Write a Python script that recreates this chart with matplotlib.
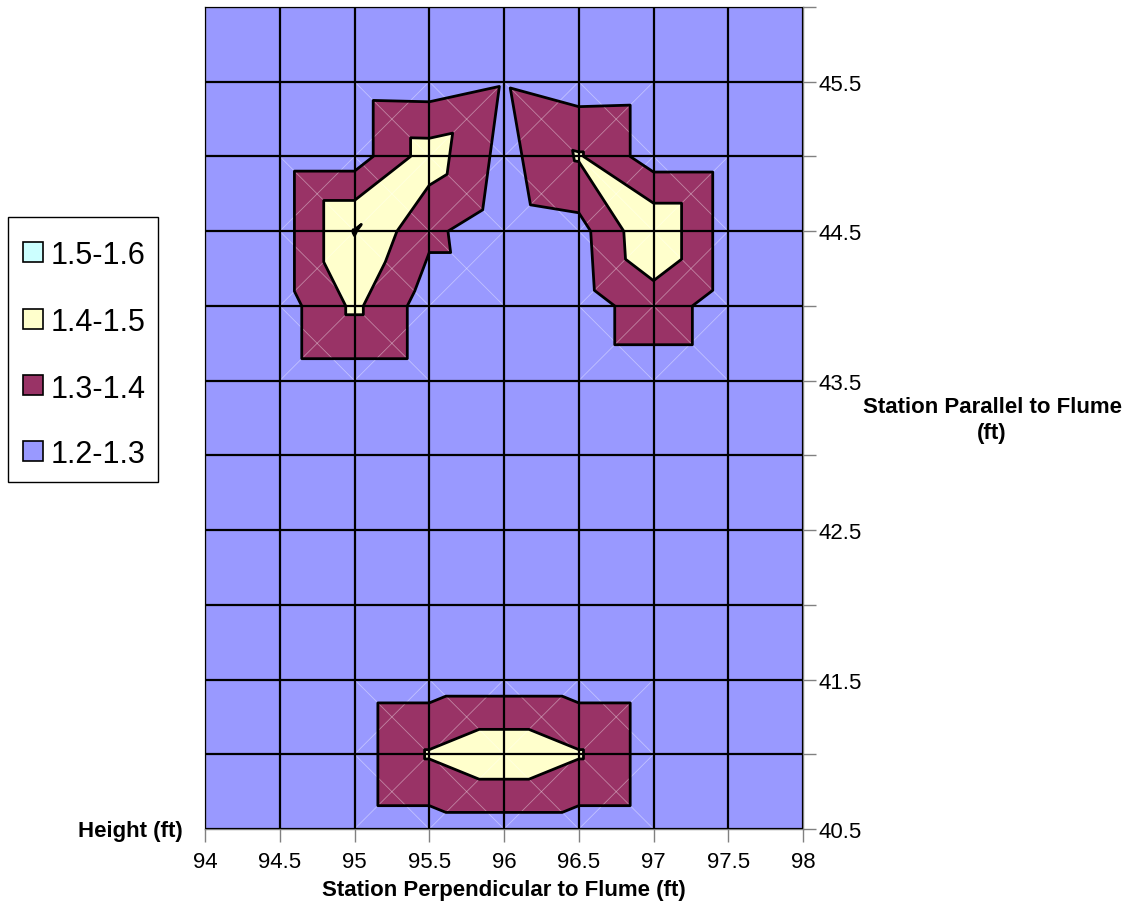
import numpy as np
import matplotlib.pyplot as plt
import matplotlib.tri as mtri
from matplotlib.patches import Rectangle

plt.rcParams['font.family'] = ['Liberation Sans', 'DejaVu Sans']

# stations (ft)
station_perp = [94.0, 94.5, 95.0, 95.5, 96.0, 96.5, 97.0, 97.5, 98.0]
station_par = [40.5, 41.0, 41.5, 42.0, 42.5, 43.0, 43.5, 44.0, 44.5, 45.0, 45.5, 46.0]

# height readings (ft), one row per parallel station, bottom row first
h_405 = [1.25, 1.25, 1.25, 1.25, 1.25, 1.25, 1.25, 1.25, 1.25]
h_410 = [1.25, 1.25, 1.25, 1.41, 1.475, 1.41, 1.25, 1.25, 1.25]
h_415 = [1.25, 1.25, 1.25, 1.25, 1.25, 1.25, 1.25, 1.25, 1.25]
h_420 = [1.25, 1.25, 1.25, 1.25, 1.25, 1.25, 1.25, 1.25, 1.25]
h_425 = [1.25, 1.25, 1.25, 1.25, 1.25, 1.25, 1.25, 1.25, 1.25]
h_430 = [1.25, 1.25, 1.25, 1.25, 1.25, 1.25, 1.25, 1.25, 1.25]
h_435 = [1.25, 1.25, 1.25, 1.25, 1.25, 1.25, 1.25, 1.25, 1.25]
h_440 = [1.25, 1.25, 1.42, 1.25, 1.25, 1.25, 1.354, 1.25, 1.25]
h_445 = [1.25, 1.25, 1.505, 1.32, 1.24, 1.264, 1.49, 1.25, 1.25]
h_450 = [1.25, 1.25, 1.25, 1.45, 1.265, 1.41, 1.25, 1.25, 1.25]
h_455 = [1.25, 1.25, 1.25, 1.245, 1.29, 1.245, 1.25, 1.25, 1.25]
h_460 = [1.25, 1.25, 1.25, 1.25, 1.25, 1.25, 1.25, 1.25, 1.25]

band_levels = [1.2, 1.3, 1.4, 1.5, 1.6]
band_labels = ['1.2-1.3', '1.3-1.4', '1.4-1.5', '1.5-1.6']
band_colors = ['#9999FF', '#993366', '#FFFFCC', '#CCFFFF']

H = np.array([h_405, h_410, h_415, h_420, h_425, h_430,
              h_435, h_440, h_445, h_450, h_455, h_460])
xs = np.array(station_perp)
ys = np.array(station_par)
nx, ny = len(xs), len(ys)

# surface mesh: every cell cut into 4 triangles round its centre point
X, Y = np.meshgrid(xs, ys)
px = list(X.ravel())
py = list(Y.ravel())
pz = list(H.ravel())
tris = []
seam_cells = []
for j in range(ny - 1):
    for i in range(nx - 1):
        bl = j * nx + i
        br = bl + 1
        tl = bl + nx
        tr = tl + 1
        zc = max((H[j + 1, i] + H[j, i + 1]) / 2, (H[j + 1, i + 1] + H[j, i]) / 2)
        c = len(px)
        px.append((xs[i] + xs[i + 1]) / 2)
        py.append((ys[j] + ys[j + 1]) / 2)
        pz.append(zc)
        tris += [[bl, br, c], [br, tr, c], [tr, tl, c], [tl, bl, c]]
        # cells holding more than one band show their triangle seams
        vals = [H[j, i], H[j, i + 1], H[j + 1, i], H[j + 1, i + 1], zc]
        bands = np.digitize(vals, band_levels)
        if bands.max() != bands.min():
            seam_cells.append((i, j))

tri = mtri.Triangulation(px, py, np.array(tris))
pz = np.array(pz)

W, Hpx = 1137, 912
fig = plt.figure(figsize=(W / 100, Hpx / 100), dpi=100)
ax = fig.add_axes([0.1803, 0.0899, 0.5260, 0.9013])

ax.tricontourf(tri, pz, levels=band_levels, colors=band_colors, antialiased=True)

for i, j in seam_cells:
    ax.plot([xs[i], xs[i + 1]], [ys[j + 1], ys[j]], color='white', lw=0.6, alpha=0.4, zorder=2)
    ax.plot([xs[i], xs[i + 1]], [ys[j], ys[j + 1]], color='white', lw=0.6, alpha=0.4, zorder=2)

ax.tricontour(tri, pz, levels=band_levels[1:-1], colors='black', linewidths=2.0, zorder=4)

# black grid on every station
for x in xs:
    ax.axvline(x, color='black', lw=1.6, zorder=3)
for y in ys:
    ax.axhline(y, color='black', lw=1.6, zorder=3)

ax.set_xlim(xs[0], xs[-1])
ax.set_ylim(ys[0], ys[-1])

ax.set_xticks(xs)
ax.set_xticklabels(['%g' % v for v in xs])
ax.yaxis.tick_right()
ax.set_yticks(ys[::2])
ax.set_yticklabels(['%g' % v for v in ys[::2]])
ax.set_yticks(ys[1::2], minor=True)
ax.tick_params(axis='both', which='both', direction='out', length=9, width=1,
               color='#808080', labelsize=16)
ax.tick_params(axis='x', pad=7)
ax.tick_params(axis='y', which='both', pad=2)
for s in ax.spines.values():
    s.set_color('#808080')
    s.set_linewidth(1)

fig.text(0.443, 0.024, 'Station Perpendicular to Flume (ft)', ha='center', va='center',
         fontsize=16, fontweight='bold')
fig.text(0.161, 0.088, 'Height (ft)', ha='right', va='center', fontsize=16, fontweight='bold')
fig.text(0.8725, 0.539, 'Station Parallel to Flume\n(ft)', ha='center', va='center',
         fontsize=16, fontweight='bold', linespacing=1.35)

# legend box, highest band on top (pixel layout converted to figure fraction)
def fx(p):
    return p / W

def fy(p):
    return 1 - p / Hpx

fig.patches.append(Rectangle((fx(8), fy(483)), fx(150), 265 / Hpx, transform=fig.transFigure,
                             facecolor='white', edgecolor='black', lw=1))
row_y = [253, 320, 386, 452]
for k, (lab, col) in enumerate(zip(band_labels[::-1], band_colors[::-1])):
    yc = row_y[k]
    fig.patches.append(Rectangle((fx(23), fy(yc + 10)), fx(20), 20 / Hpx,
                                 transform=fig.transFigure, facecolor=col,
                                 edgecolor='black', lw=1.2))
    fig.text(fx(51), fy(yc), lab, ha='left', va='center_baseline', fontsize=22)

fig.savefig('out.png', dpi=100)
